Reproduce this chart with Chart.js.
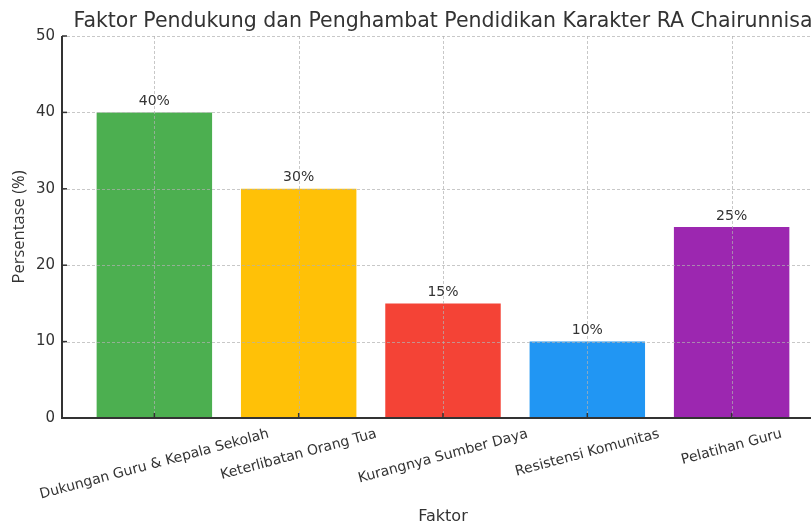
<!DOCTYPE html>
<html>
<head>
<meta charset="utf-8">
<script src="https://cdn.jsdelivr.net/npm/chart.js@4.4.0/dist/chart.umd.min.js"></script>
<style>
    html, body { margin: 0; padding: 0; overflow: hidden; background: #fff; }
</style>
</head>
<body>
<div style="width:884px;height:526px">
    <canvas id="faktor-chart" width="884" height="526"></canvas>
</div>
<script>
const chartTitle = 'Faktor Pendukung dan Penghambat Pendidikan Karakter RA Chairunnisa';
const categories = [
    'Dukungan Guru & Kepala Sekolah',
    'Keterlibatan Orang Tua',
    'Kurangnya Sumber Daya',
    'Resistensi Komunitas',
    'Pelatihan Guru'
];
const values = [40, 30, 15, 10, 25];
const barColors = ['#4caf50', '#ffc107', '#f44336', '#2196f3', '#9c27b0'];
const yTicks = [0, 10, 20, 30, 40, 50];

const textColor = '#333333';
const gridColor = 'rgba(176, 176, 176, 0.7)';

// grid sits over the bars, plus spines, inward ticks, rotated labels and values
const overlayPlugin = {
    id: 'overlay',
    afterDatasetsDraw(chart) {
        const { ctx, chartArea: area } = chart;
        const xs = chart.scales.x;
        const ys = chart.scales.y;

        ctx.save();
        ctx.strokeStyle = gridColor;
        ctx.lineWidth = 1;
        ctx.setLineDash([3, 2]);
        yTicks.forEach(v => {
            const y = Math.round(ys.getPixelForValue(v)) + 0.5;
            ctx.beginPath();
            ctx.moveTo(area.left, y);
            ctx.lineTo(area.right, y);
            ctx.stroke();
        });
        categories.forEach((c, i) => {
            const x = Math.round(xs.getPixelForValue(i)) + 0.5;
            ctx.beginPath();
            ctx.moveTo(x, area.top);
            ctx.lineTo(x, area.bottom);
            ctx.stroke();
        });
        ctx.setLineDash([]);

        // spines
        ctx.strokeStyle = '#333333';
        ctx.lineWidth = 2;
        ctx.beginPath();
        ctx.moveTo(area.left, area.top);
        ctx.lineTo(area.left, area.bottom);
        ctx.lineTo(area.right, area.bottom);
        ctx.stroke();

        // inward ticks
        ctx.lineWidth = 1.5;
        yTicks.forEach(v => {
            const y = ys.getPixelForValue(v);
            ctx.beginPath();
            ctx.moveTo(area.left, y);
            ctx.lineTo(area.left + 5, y);
            ctx.stroke();
        });
        categories.forEach((c, i) => {
            const x = xs.getPixelForValue(i);
            ctx.beginPath();
            ctx.moveTo(x, area.bottom);
            ctx.lineTo(x, area.bottom - 5);
            ctx.stroke();
        });

        // value labels
        const meta = chart.getDatasetMeta(0);
        ctx.fillStyle = textColor;
        ctx.font = '14px "DejaVu Sans"';
        ctx.textAlign = 'center';
        ctx.textBaseline = 'bottom';
        meta.data.forEach((bar, i) => {
            ctx.fillText(values[i] + '%', bar.x, bar.y - 4);
        });

        // rotated category labels, centred under each tick
        const angle = 15 * Math.PI / 180;
        ctx.textBaseline = 'middle';
        categories.forEach((c, i) => {
            const w = ctx.measureText(c).width;
            const h = 14;
            const halfH = (w * Math.sin(angle) + h * Math.cos(angle)) / 2;
            const x = xs.getPixelForValue(i);
            const y = area.bottom + 9 + halfH;
            ctx.save();
            ctx.translate(x, y);
            ctx.rotate(-angle);
            ctx.fillText(c, 0, 0);
            ctx.restore();
        });

        // title centred over the axes
        ctx.font = '20.5px "DejaVu Sans"';
        ctx.textBaseline = 'middle';
        ctx.fillText(chartTitle, (area.left + area.right) / 2, 22);
        ctx.restore();
    }
};

const ctx = document.getElementById('faktor-chart');
new Chart(ctx, {
    type: 'bar',
    data: {
        labels: categories,
        datasets: [{
            data: values.map((v, i) => ({ x: i, y: v })),
            backgroundColor: barColors,
            borderWidth: 0,
            barPercentage: 0.8,
            categoryPercentage: 1.0
        }]
    },
    options: {
        responsive: false,
        animation: false,
        layout: {
            padding: { top: 36, right: 60, left: 0, bottom: 0 }
        },
        plugins: {
            legend: { display: false },
            tooltip: { enabled: false },
            title: { display: false }
        },
        scales: {
            x: {
                type: 'linear',
                offset: false,
                min: -0.64,
                max: 4.64,
                grid: { display: false, drawTicks: false, offset: false },
                border: { display: false },
                ticks: {
                    display: false,
                    stepSize: 1,
                    includeBounds: false
                },
                title: {
                    display: true,
                    text: 'Faktor',
                    color: textColor,
                    font: { family: 'DejaVu Sans', size: 16 },
                    padding: { top: 90, bottom: 0 }
                },
                afterFit(scale) {
                    scale.height = 108;
                }
            },
            y: {
                min: 0,
                max: 50,
                grid: { display: false, drawTicks: false },
                border: { display: false },
                ticks: {
                    stepSize: 10,
                    padding: 7,
                    color: textColor,
                    font: { family: 'DejaVu Sans', size: 15 }
                },
                title: {
                    display: true,
                    text: 'Persentase (%)',
                    color: textColor,
                    font: { family: 'Open Sans', size: 16.5 },
                    padding: { top: 9, bottom: 0 }
                },
                afterFit(scale) {
                    scale.width = 62;
                }
            }
        }
    },
    plugins: [overlayPlugin]
});
</script>
</body>
</html>
